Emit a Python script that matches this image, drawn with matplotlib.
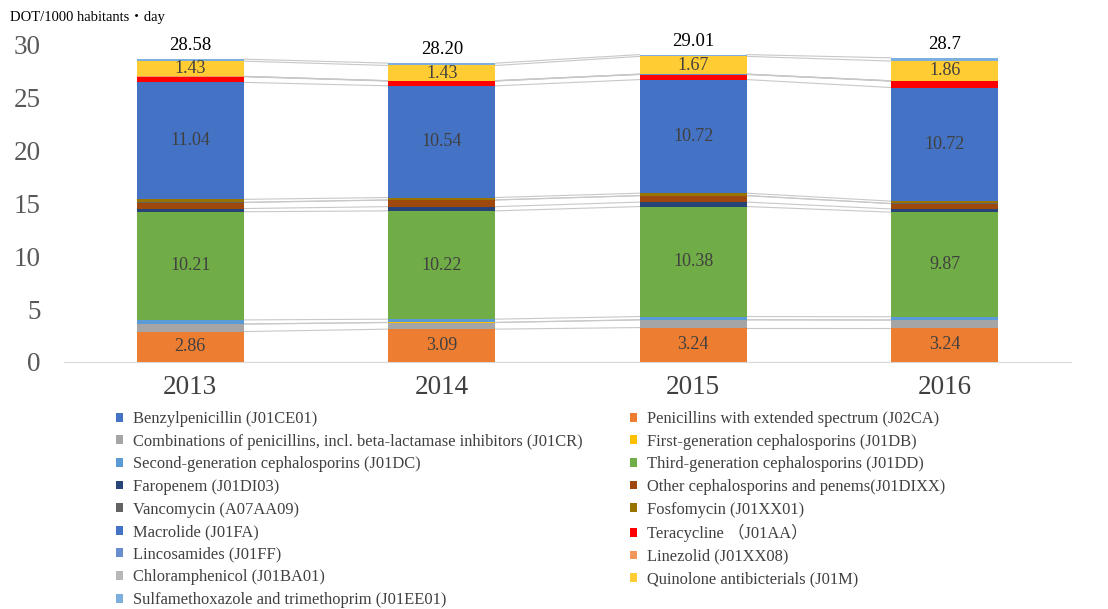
import numpy as np
import matplotlib.pyplot as plt

plt.rcParams['font.family'] = ['Liberation Serif', 'Noto Sans CJK JP']

years = ['2013', '2014', '2015', '2016']
totals = ['28.58', '28.20', '29.01', '28.7']

names = ['Benzylpenicillin (J01CE01)',
         'Penicillins with extended spectrum (J02CA)',
         'Combinations of penicillins, incl. beta-lactamase inhibitors (J01CR)',
         'First-generation cephalosporins (J01DB)',
         'Second-generation cephalosporins (J01DC)',
         'Third-generation cephalosporins (J01DD)',
         'Faropenem (J01DI03)',
         'Other cephalosporins and penems(J01DIXX)',
         'Vancomycin (A07AA09)',
         'Fosfomycin (J01XX01)',
         'Macrolide (J01FA)',
         'Teracycline \uff08J01AA\uff09',
         'Lincosamides (J01FF)',
         'Linezolid (J01XX08)',
         'Chloramphenicol (J01BA01)',
         'Quinolone antibicterials (J01M)',
         'Sulfamethoxazole and trimethoprim (J01EE01)']

# one row per series, one column per year
benzyl = [0.01, 0.01, 0.01, 0.01]
pen_ext = [2.86, 3.09, 3.24, 3.24]
combo = [0.70, 0.62, 0.72, 0.70]
ceph1 = [0.02, 0.02, 0.02, 0.02]
ceph2 = [0.38, 0.30, 0.30, 0.30]
ceph3 = [10.21, 10.22, 10.38, 9.87]
faropenem = [0.30, 0.40, 0.42, 0.30]
other_ceph = [0.57, 0.62, 0.60, 0.50]
vanco = [0.02, 0.02, 0.02, 0.02]
fosfo = [0.28, 0.22, 0.22, 0.22]
macrolide = [11.04, 10.54, 10.72, 10.72]
tetra = [0.53, 0.45, 0.48, 0.60]
lincos = [0.02, 0.02, 0.02, 0.02]
linezolid = [0.01, 0.01, 0.01, 0.01]
chloram = [0.01, 0.01, 0.01, 0.01]
quinolone = [1.43, 1.43, 1.67, 1.86]
sulfa = [0.19, 0.22, 0.17, 0.30]

series = [benzyl, pen_ext, combo, ceph1, ceph2, ceph3, faropenem, other_ceph,
          vanco, fosfo, macrolide, tetra, lincos, linezolid, chloram,
          quinolone, sulfa]
colors = ['#4472C4', '#ED7D31', '#A5A5A5', '#FFC000', '#5B9BD5', '#70AD47',
          '#264478', '#9E480E', '#636363', '#997300', '#4472C4', '#FF0000',
          '#698ED0', '#F1975A', '#B7B7B7', '#FFCD33', '#7CAFDD']
labelled = [1, 5, 10, 15]

fig = plt.figure(figsize=(11.08, 6.09), dpi=100)
ax = fig.add_axes([0.0582, 0.4056, 0.908, 0.522])

x = np.arange(len(years))
w = 0.426
bottom = np.zeros(len(years))
handles = []
for i, vals in enumerate(series):
    vals = np.array(vals)
    b = ax.bar(x, vals, w, bottom=bottom, color=colors[i], linewidth=0,
               label=names[i], zorder=3)
    handles.append(b)
    top = bottom + vals
    # series lines between neighbouring bars
    for j in range(len(years) - 1):
        ax.plot([x[j] + w / 2, x[j + 1] - w / 2], [top[j], top[j + 1]],
                color='#C8C8C8', lw=0.8, zorder=2)
    if i in labelled:
        for j in range(len(years)):
            ax.text(x[j], bottom[j] + vals[j] / 2, f'{vals[j]:.2f}',
                    ha='center', va='center', fontsize=13, color='#404040',
                    zorder=4)
    bottom = top

for j in range(len(years)):
    ax.text(x[j], bottom[j] + 0.45, totals[j], ha='center', va='bottom',
            fontsize=13.5, color='black')

ax.set_xlim(-0.5, len(years) - 0.5)
ax.set_ylim(0, 30)
ax.set_yticks([0, 5, 10, 15, 20, 25, 30])
ax.set_xticks(x)
ax.set_xticklabels(years)
ax.tick_params(axis='y', length=0, pad=17, labelsize=19.5, labelcolor='#595959')
ax.tick_params(axis='x', length=0, pad=9.5, labelsize=19.5, labelcolor='#404040')
for s in ['top', 'right', 'left']:
    ax.spines[s].set_visible(False)
ax.spines['bottom'].set_color('#D9D9D9')

fig.text(0.009, 0.972, 'DOT/1000 habitants\u30fbday', fontsize=10.5,
         va='center', ha='left')

# legend: two columns, read row by row
order = list(range(0, 17, 2)) + list(range(1, 17, 2))
fig.legend([handles[k] for k in order], [names[k] for k in order],
           ncol=2, loc='upper left', bbox_to_anchor=(0.1043, 0.325),
           frameon=False, fontsize=11.9, handlelength=0.45, handleheight=0.45,
           handletextpad=0.6, labelspacing=0.40, columnspacing=2.86,
           borderaxespad=0, borderpad=0, labelcolor='#404040')

fig.savefig('out.png', dpi=100)
